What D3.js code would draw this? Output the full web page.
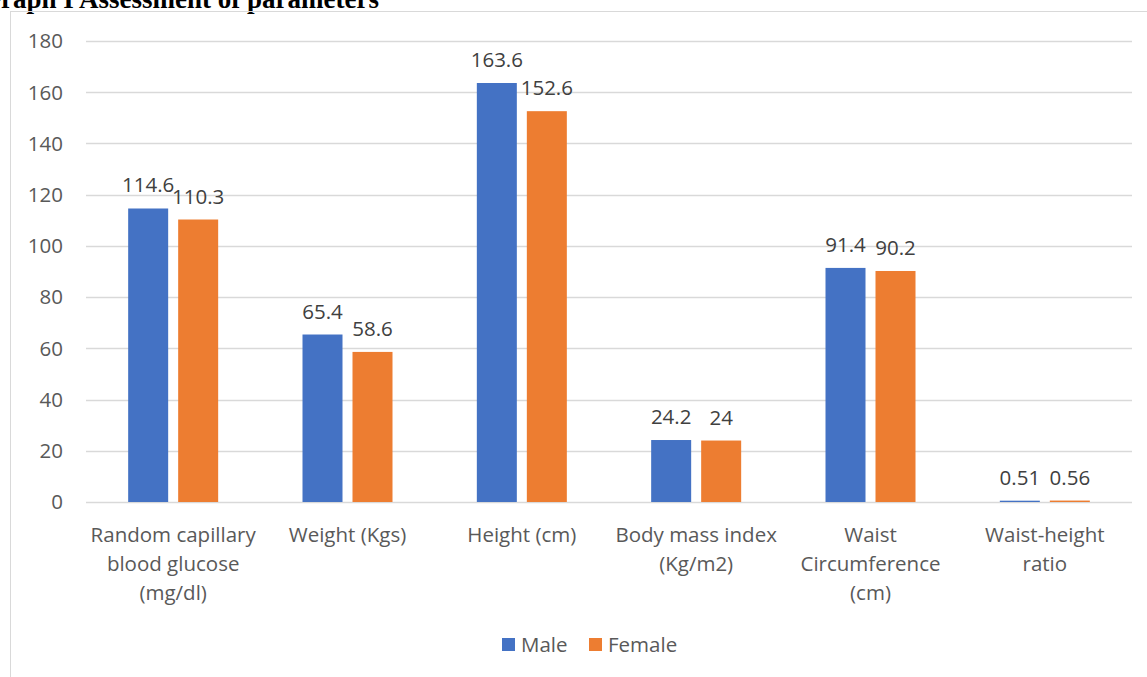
<!DOCTYPE html>
<html>
<head>
<meta charset="utf-8">
<script src="https://cdn.jsdelivr.net/npm/d3@7"></script>
<style>
  body { margin: 0; background: #fff; overflow: hidden; }
  svg { display: block; }
</style>
</head>
<body>
<svg id="chart" width="1147" height="677"></svg>
<script>
// data
const categories = [
  ['Random capillary', 'blood glucose', '(mg/dl)'],
  ['Weight (Kgs)'],
  ['Height (cm)'],
  ['Body mass index', '(Kg/m2)'],
  ['Waist', 'Circumference', '(cm)'],
  ['Waist-height', 'ratio'],
];
const maleValues = [114.6, 65.4, 163.6, 24.2, 91.4, 0.51];
const femaleValues = [110.3, 58.6, 152.6, 24, 90.2, 0.56];
const seriesNames = ['Male', 'Female'];
const yTicks = [0, 20, 40, 60, 80, 100, 120, 140, 160, 180];

const colors = { Male: '#4472c4', Female: '#ed7d31' };
const font = '"Open Sans", "Noto Sans", sans-serif';
const fontSize = '20.5px';

const svg = d3.select('#chart');

// title, clipped at the top-left like the source
svg.append('text')
  .attr('x', -20)
  .attr('y', 8)
  .style('font-family', '"Liberation Serif", "Times New Roman", serif')
  .style('font-weight', 'bold')
  .style('font-size', '27px')
  .style('fill', '#000')
  .text('Graph I Assessment of parameters');

// chart frame
svg.append('rect')
  .attr('x', 10.5).attr('y', 11.5)
  .attr('width', 1146).attr('height', 700)
  .attr('fill', 'none')
  .attr('stroke', '#d9d9d9');

const plot = { left: 86, right: 1132, top: 41, bottom: 502 };

const x = d3.scaleBand()
  .domain(d3.range(categories.length))
  .range([plot.left, plot.right]);

const y = d3.scaleLinear()
  .domain([0, 180])
  .range([plot.bottom, plot.top]);

const barW = 40, gap = 10;

const g = svg.append('g');

// grid lines
g.selectAll('line.grid')
  .data(yTicks)
  .join('line')
  .attr('class', 'grid')
  .attr('x1', plot.left).attr('x2', plot.right)
  .attr('y1', d => Math.round(y(d)) + 0.5)
  .attr('y2', d => Math.round(y(d)) + 0.5)
  .attr('stroke', '#d9d9d9')
  .attr('stroke-width', 1.3);

// y-axis labels
g.selectAll('text.ytick')
  .data(yTicks)
  .join('text')
  .attr('class', 'ytick')
  .attr('x', 63)
  .attr('y', d => y(d))
  .attr('dy', '0.36em')
  .attr('text-anchor', 'end')
  .style('font-family', font)
  .style('font-size', fontSize)
  .style('fill', '#595959')
  .text(d => d);

const series = [
  { name: 'Male', values: maleValues, offset: -(barW / 2 + gap / 2) },
  { name: 'Female', values: femaleValues, offset: barW / 2 + gap / 2 },
];

series.forEach(s => {
  const cx = i => x(i) + x.bandwidth() / 2 + s.offset;
  g.selectAll(`rect.bar-${s.name}`)
    .data(s.values)
    .join('rect')
    .attr('class', `bar-${s.name}`)
    .attr('x', (d, i) => cx(i) - barW / 2)
    .attr('y', d => y(d))
    .attr('width', barW)
    .attr('height', d => y(0) - y(d))
    .attr('fill', colors[s.name]);

  g.selectAll(`text.val-${s.name}`)
    .data(s.values)
    .join('text')
    .attr('class', `val-${s.name}`)
    .attr('x', (d, i) => cx(i))
    .attr('y', d => y(d) - 16)
    .attr('text-anchor', 'middle')
    .style('font-family', font)
    .style('font-size', fontSize)
    .style('fill', '#404040')
    .text(d => d);
});

// category labels
categories.forEach((lines, i) => {
  const t = g.append('text')
    .attr('x', x(i) + x.bandwidth() / 2)
    .attr('y', 542)
    .attr('text-anchor', 'middle')
    .style('font-family', font)
    .style('font-size', fontSize)
    .style('fill', '#595959');
  lines.forEach((ln, k) => {
    t.append('tspan')
      .attr('x', x(i) + x.bandwidth() / 2)
      .attr('dy', k === 0 ? 0 : 29)
      .text(ln);
  });
});

// legend
const legend = svg.append('g').attr('transform', 'translate(502,645)');
const legendX = [0, 87];
seriesNames.forEach((name, i) => {
  const lg = legend.append('g').attr('transform', `translate(${legendX[i]},0)`);
  lg.append('rect')
    .attr('x', 0).attr('y', -7)
    .attr('width', 13).attr('height', 13)
    .attr('fill', colors[name]);
  lg.append('text')
    .attr('x', 19).attr('y', 0)
    .attr('dy', '0.36em')
    .style('font-family', font)
    .style('font-size', fontSize)
    .style('fill', '#595959')
    .text(name);
});
</script>
</body>
</html>
